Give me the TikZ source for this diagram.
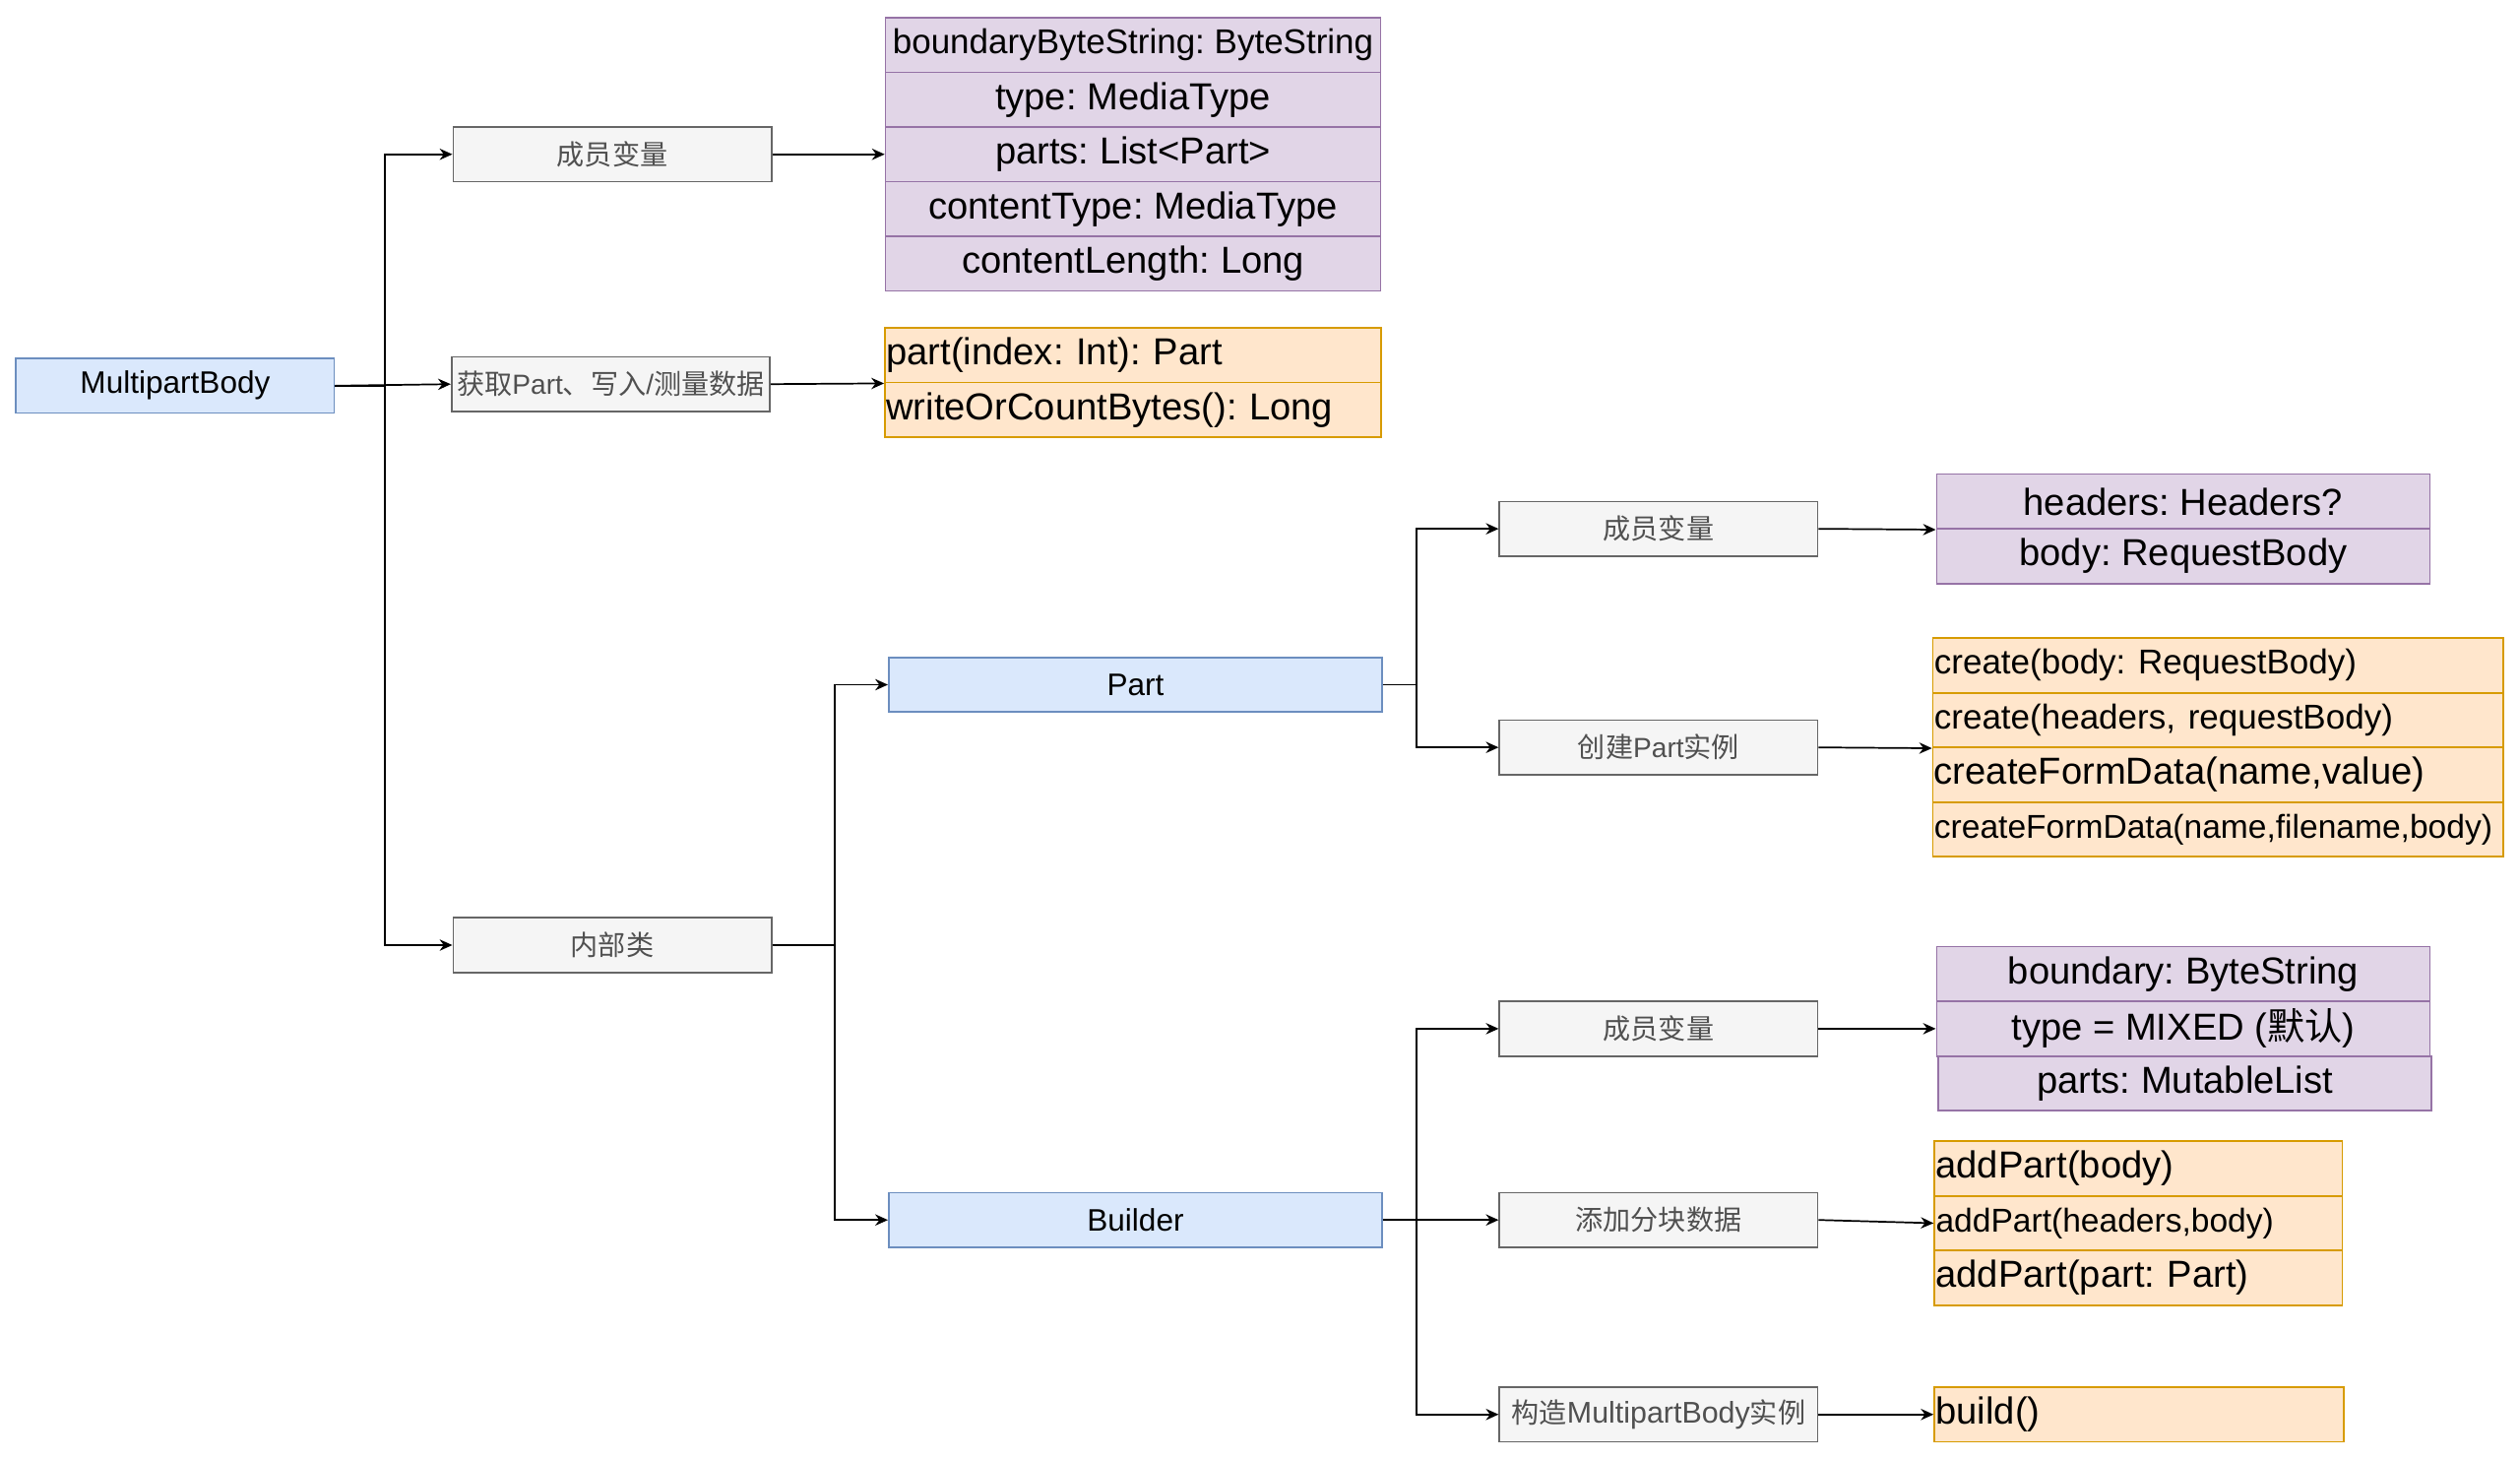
\documentclass[tikz,border=0pt]{standalone}
\usepackage{fontspec}
\setmainfont{Liberation Sans}
\newfontfamily\cjk{Noto Sans CJK SC}
\usepackage{xcolor}
\definecolor{azulclaro}{RGB}{218,232,252}
\definecolor{azulborde}{RGB}{108,142,191}
\definecolor{grisclaro}{RGB}{245,245,245}
\definecolor{grisborde}{RGB}{102,102,102}
\definecolor{gristexto}{RGB}{80,80,80}
\definecolor{moradoclaro}{RGB}{225,213,231}
\definecolor{moradoborde}{RGB}{150,115,166}
\definecolor{naranjaclaro}{RGB}{255,230,204}
\definecolor{naranjaborde}{RGB}{215,155,0}
\usepackage{tikz}
\usetikzlibrary{arrows.meta, positioning}
\frenchspacing
\newcommand{\letragrande}{\fontsize{13.3}{16}\selectfont}
\newcommand{\letramedia}{\fontsize{12.2}{15}\selectfont}
\newcommand{\letrachica}{\fontsize{11.7}{14}\selectfont}
\newcommand{\letraclase}{\fontsize{11}{13}\selectfont}
\newcommand{\letragris}{\fontsize{9.8}{12}\selectfont}

\begin{document}
\begin{tikzpicture}[x=0.2mm, y=-0.2mm,
    clase/.style={draw=azulborde, fill=azulclaro, line width=0.6pt, font=\letraclase,
      minimum height=6.8mm, inner sep=0pt},
    gris/.style={draw=grisborde, fill=grisclaro, text=gristexto, line width=0.6pt,
      font=\letragris, minimum width=39.6mm, minimum height=6.8mm, inner sep=0pt},
    atributo/.style={draw=moradoborde, fill=moradoclaro, line width=0.6pt,
      font=\letragrande, minimum width=#1, minimum height=6.8mm, inner sep=0pt},
    metodo/.style={draw=naranjaborde, fill=naranjaclaro, line width=0.6pt,
      font=\letragrande, text width=#1, align=left, inner xsep=0.5pt, inner ysep=0pt,
      minimum height=6.8mm},
    flecha/.style={-{Stealth[length=4.5pt,width=4pt]}, line width=0.6pt}]
  \useasboundingbox (0,0) rectangle (1568,908);

  % Clases
  \node[clase, minimum width=39.6mm] (multipart) at (109,240) {MultipartBody};
  \node[clase, minimum width=61.4mm] (part) at (706.5,426) {Part};
  \node[clase, minimum width=61.4mm] (builder) at (706.5,759) {Builder};

  % Cajas grises
  \node[gris] (campos1) at (381,96) {\cjk 成员变量};
  \node[gris] (obtener) at (380,239) {{\cjk 获取}Part{\cjk 、写入}/{\cjk 测量数据}};
  \node[gris] (interna) at (381,588) {\cjk 内部类};
  \node[gris] (campos2) at (1032,329) {\cjk 成员变量};
  \node[gris] (crear) at (1032,465) {{\cjk 创建}Part{\cjk 实例}};
  \node[gris] (campos3) at (1032,640) {\cjk 成员变量};
  \node[gris] (agregar) at (1032,759) {\cjk 添加分块数据};
  \node[gris] (construir) at (1032,880) {{\cjk 构造}{\fontsize{10.6}{12}\selectfont MultipartBody}{\cjk 实例}};

  % Atributos de MultipartBody
  \node[atributo=61.6mm] (ma1) at (705,28) {\letramedia boundaryByteString: ByteString};
  \foreach \t [count=\i from 2] in {type: MediaType, parts: List<Part>,
      contentType: MediaType, contentLength: Long}
    \node[atributo=61.6mm] (ma\i) at (705,{-6+34*\i}) {\t};

  % Metodos de MultipartBody
  \node[metodo=61.4mm] (mo1) at (705,221) {part(index: Int): Part};
  \node[metodo=61.4mm] (mo2) at (705,255) {writeOrCountBytes(): Long};

  % Part
  \node[atributo=61.4mm] (pa1) at (1358.5,312) {headers: Headers?};
  \node[atributo=61.4mm] (pa2) at (1358.5,346) {body: RequestBody};
  \node[metodo=70.6mm] (po1) at (1380,414) {\letramedia create(body: RequestBody)};
  \node[metodo=70.6mm] (po2) at (1380,448) {\letramedia create(headers, requestBody)};
  \node[metodo=70.6mm] (po3) at (1380,482) {createFormData(name,value)};
  \node[metodo=70.6mm] (po4) at (1380,516) {\letrachica createFormData(name,filename,body)};

  % Builder
  \node[atributo=61.4mm] (ba1) at (1358.5,606) {boundary: ByteString};
  \node[atributo=61.4mm] (ba2) at (1358.5,640) {type = MIXED ({\cjk 默认})};
  \node[atributo=61.4mm] (ba3) at (1359.5,674) {parts: MutableList};
  \node[metodo=50.4mm] (bo1) at (1330.5,727) {addPart(body)};
  \node[metodo=50.4mm] (bo2) at (1330.5,761) {\letrachica addPart(headers,body)};
  \node[metodo=50.4mm] (bo3) at (1330.5,795) {addPart(part: Part)};
  \node[metodo=50.6mm] (bd) at (1331,880) {build()};

  % Flechas
  \draw[flecha] (multipart.east) -- (obtener.west);
  \draw[flecha] (multipart.east) -- ++(31,0) |- (campos1.west);
  \draw[flecha] (multipart.east) -- ++(31,0) |- (interna.west);
  \draw[flecha] (campos1.east) -- (ma3.west);
  \draw[flecha] (obtener.east) -- (mo1.south west);
  \draw[flecha] (interna.east) -- ++(39,0) |- (part.west);
  \draw[flecha] (interna.east) -- ++(39,0) |- (builder.west);
  \draw[flecha] (part.east) -- ++(21,0) |- (campos2.west);
  \draw[flecha] (part.east) -- ++(21,0) |- (crear.west);
  \draw[flecha] (campos2.east) -- (pa1.south west);
  \draw[flecha] (crear.east) -- (po2.south west);
  \draw[flecha] (builder.east) -- (agregar.west);
  \draw[flecha] (builder.east) -- ++(21,0) |- (campos3.west);
  \draw[flecha] (builder.east) -- ++(21,0) |- (construir.west);
  \draw[flecha] (campos3.east) -- (ba2.west);
  \draw[flecha] (agregar.east) -- (bo2.west);
  \draw[flecha] (construir.east) -- (bd.west);
\end{tikzpicture}
\end{document}
